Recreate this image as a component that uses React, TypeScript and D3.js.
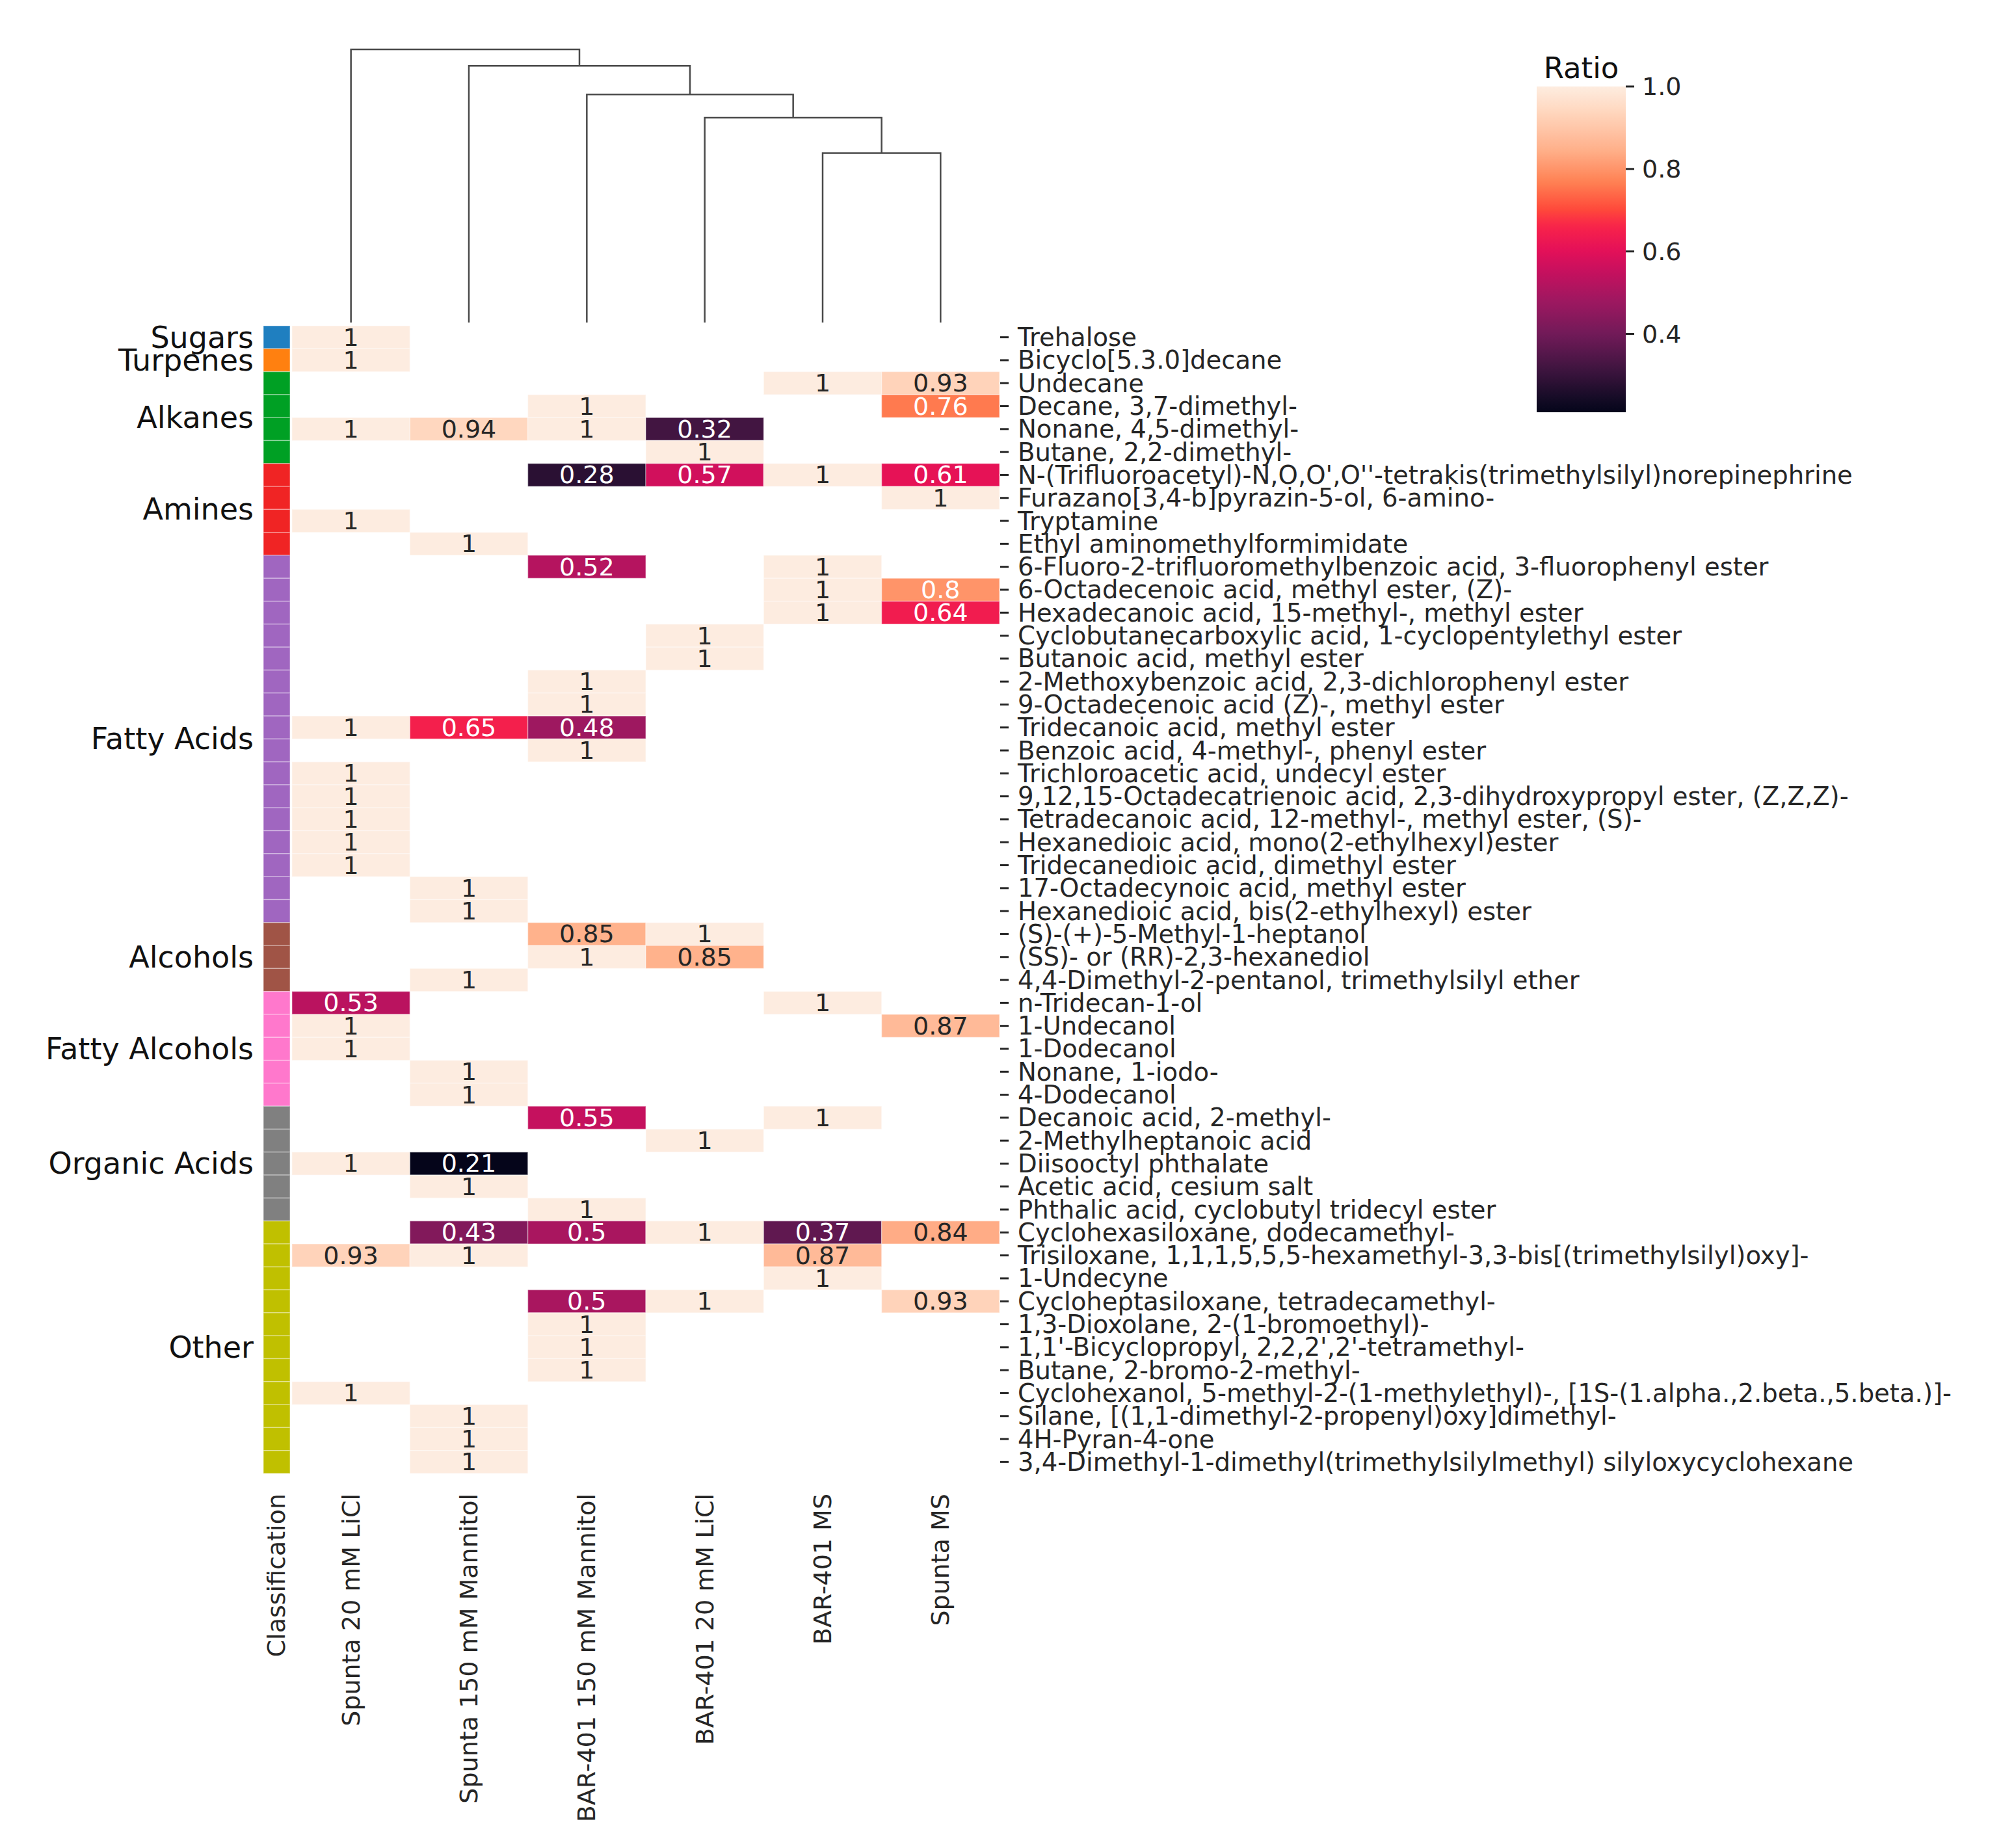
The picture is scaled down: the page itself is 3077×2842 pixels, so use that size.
import React, { useEffect } from 'react';
import * as d3 from 'd3';

// sample columns, in dendrogram leaf order
const columns = [
    'Spunta 20 mM LiCl',
    'Spunta 150 mM Mannitol',
    'BAR-401 150 mM Mannitol',
    'BAR-401 20 mM LiCl',
    'BAR-401 MS',
    'Spunta MS',
];

const compounds = [
    'Trehalose',
    'Bicyclo[5.3.0]decane',
    'Undecane',
    'Decane, 3,7-dimethyl-',
    'Nonane, 4,5-dimethyl-',
    'Butane, 2,2-dimethyl-',
    "N-(Trifluoroacetyl)-N,O,O',O''-tetrakis(trimethylsilyl)norepinephrine",
    'Furazano[3,4-b]pyrazin-5-ol, 6-amino-',
    'Tryptamine',
    'Ethyl aminomethylformimidate',
    '6-Fluoro-2-trifluoromethylbenzoic acid, 3-fluorophenyl ester',
    '6-Octadecenoic acid, methyl ester, (Z)-',
    'Hexadecanoic acid, 15-methyl-, methyl ester',
    'Cyclobutanecarboxylic acid, 1-cyclopentylethyl ester',
    'Butanoic acid, methyl ester',
    '2-Methoxybenzoic acid, 2,3-dichlorophenyl ester',
    '9-Octadecenoic acid (Z)-, methyl ester',
    'Tridecanoic acid, methyl ester',
    'Benzoic acid, 4-methyl-, phenyl ester',
    'Trichloroacetic acid, undecyl ester',
    '9,12,15-Octadecatrienoic acid, 2,3-dihydroxypropyl ester, (Z,Z,Z)-',
    'Tetradecanoic acid, 12-methyl-, methyl ester, (S)-',
    'Hexanedioic acid, mono(2-ethylhexyl)ester',
    'Tridecanedioic acid, dimethyl ester',
    '17-Octadecynoic acid, methyl ester',
    'Hexanedioic acid, bis(2-ethylhexyl) ester',
    '(S)-(+)-5-Methyl-1-heptanol',
    '(SS)- or (RR)-2,3-hexanediol',
    '4,4-Dimethyl-2-pentanol, trimethylsilyl ether',
    'n-Tridecan-1-ol',
    '1-Undecanol',
    '1-Dodecanol',
    'Nonane, 1-iodo-',
    '4-Dodecanol',
    'Decanoic acid, 2-methyl-',
    '2-Methylheptanoic acid',
    'Diisooctyl phthalate',
    'Acetic acid, cesium salt',
    'Phthalic acid, cyclobutyl tridecyl ester',
    'Cyclohexasiloxane, dodecamethyl-',
    'Trisiloxane, 1,1,1,5,5,5-hexamethyl-3,3-bis[(trimethylsilyl)oxy]-',
    '1-Undecyne',
    'Cycloheptasiloxane, tetradecamethyl-',
    '1,3-Dioxolane, 2-(1-bromoethyl)-',
    "1,1'-Bicyclopropyl, 2,2,2',2'-tetramethyl-",
    'Butane, 2-bromo-2-methyl-',
    'Cyclohexanol, 5-methyl-2-(1-methylethyl)-, [1S-(1.alpha.,2.beta.,5.beta.)]-',
    'Silane, [(1,1-dimethyl-2-propenyl)oxy]dimethyl-',
    '4H-Pyran-4-one',
    '3,4-Dimethyl-1-dimethyl(trimethylsilylmethyl) silyloxycyclohexane',
];

const classes = ['Sugars', 'Turpenes', 'Alkanes', 'Amines', 'Fatty Acids', 'Alcohols', 'Fatty Alcohols', 'Organic Acids', 'Other'];
const classCounts = [1, 1, 4, 4, 16, 3, 5, 5, 11];
const classColors = ['#1f7fc0', '#ff8010', '#00a024', '#f02424', '#a066c0', '#a05446', '#ff78cc', '#808080', '#c0c000'];

const _ = null;
// ratio per column, one entry per compound (rows of ten)
const spunta20LiCl = [
    1, 1, _, _, 1, _, _, _, 1, _,
    _, _, _, _, _, _, _, 1, _, 1,
    1, 1, 1, 1, _, _, _, _, _, 0.53,
    1, 1, _, _, _, _, 1, _, _, _,
    0.93, _, _, _, _, _, 1, _, _, _,
];
const spunta150Mannitol = [
    _, _, _, _, 0.94, _, _, _, _, 1,
    _, _, _, _, _, _, _, 0.65, _, _,
    _, _, _, _, 1, 1, _, _, 1, _,
    _, _, 1, 1, _, _, 0.21, 1, _, 0.43,
    1, _, _, _, _, _, _, 1, 1, 1,
];
const bar150Mannitol = [
    _, _, _, 1, 1, _, 0.28, _, _, _,
    0.52, _, _, _, _, 1, 1, 0.48, 1, _,
    _, _, _, _, _, _, 0.85, 1, _, _,
    _, _, _, _, 0.55, _, _, _, 1, 0.5,
    _, _, 0.5, 1, 1, 1, _, _, _, _,
];
const bar20LiCl = [
    _, _, _, _, 0.32, 1, 0.57, _, _, _,
    _, _, _, 1, 1, _, _, _, _, _,
    _, _, _, _, _, _, 1, 0.85, _, _,
    _, _, _, _, _, 1, _, _, _, 1,
    _, _, 1, _, _, _, _, _, _, _,
];
const barMS = [
    _, _, 1, _, _, _, 1, _, _, _,
    1, 1, 1, _, _, _, _, _, _, _,
    _, _, _, _, _, _, _, _, _, 1,
    _, _, _, _, 1, _, _, _, _, 0.37,
    0.87, 1, _, _, _, _, _, _, _, _,
];
const spuntaMS = [
    _, _, 0.93, 0.76, _, _, 0.61, 1, _, _,
    _, 0.8, 0.64, _, _, _, _, _, _, _,
    _, _, _, _, _, _, _, _, _, _,
    0.87, _, _, _, _, _, _, _, _, 0.84,
    _, _, 0.93, _, _, _, _, _, _, _,
];
const seriesValues = [spunta20LiCl, spunta150Mannitol, bar150Mannitol, bar20LiCl, barMS, spuntaMS];

// column linkage: [left, right, height], new nodes get ids 6, 7, ...
const linkage: [number, number, number][] = [
    [4, 5, 0.62],
    [3, 6, 0.75],
    [2, 7, 0.835],
    [1, 8, 0.94],
    [0, 9, 1.0],
];

const cbarTicks = [0.4, 0.6, 0.8, 1.0];

// seaborn "rocket" (used for annotation contrast like seaborn does)
const rocketStops = ['#03051a', '#35193e', '#701f57', '#ad1759', '#e13342', '#f37651', '#f6b48f', '#faebdd'];
// fill colours as they appear in the picture (rocket, more saturated)
const cmapValues = [0.21, 0.238, 0.317, 0.397, 0.476, 0.555, 0.603, 0.66, 0.703, 0.767, 0.846, 0.952, 1.0];
const cmapColors = ['#05051a', '#120a24', '#401540', '#701a58', '#9c1860', '#c8105e', '#e41058', '#f8224a', '#ff4a3a', '#ff8052', '#ffb08a', '#ffdcc6', '#fdece0'];

const W = 3077;
const H = 2842;
const FONT = '"DejaVu Sans", sans-serif';
const TXT = '#262626';

const App: React.FC = () => {
    useEffect(() => {
        document.body.style.margin = '0';
    }, []);

    const vmin = 0.21;
    const vmax = 1.0;

    const x = d3.scaleBand<string>().domain(columns).range([449, 1537]);
    const y = d3.scaleBand<string>().domain(compounds).range([501, 2266]);

    const color = d3
        .scaleLinear<string>()
        .domain(cmapValues)
        .range(cmapColors)
        .interpolate(d3.interpolateRgb)
        .clamp(true);

    const rocket = d3
        .scaleLinear<string>()
        .domain(rocketStops.map((_c, i) => vmin + (i / (rocketStops.length - 1)) * (vmax - vmin)))
        .range(rocketStops)
        .interpolate(d3.interpolateRgb)
        .clamp(true);

    const textColor = (v: number) => {
        const rgb = d3.rgb(rocket(v));
        const lin = (c: number) => {
            const s = c / 255;
            return s <= 0.03928 ? s / 12.92 : Math.pow((s + 0.055) / 1.055, 2.4);
        };
        const lum = 0.2126 * lin(rgb.r) + 0.7152 * lin(rgb.g) + 0.0722 * lin(rgb.b);
        return lum > 0.408 ? TXT : '#ffffff';
    };

    // row -> class
    const rowClass: number[] = [];
    classCounts.forEach((n, ci) => {
        for (let k = 0; k < n; k++) rowClass.push(ci);
    });

    // dendrogram
    const dy = d3.scaleLinear().domain([0, 1.0]).range([496, 76]);
    const nodeX: number[] = columns.map((c) => (x(c) as number) + x.bandwidth() / 2);
    const nodeH: number[] = columns.map(() => 0);
    const dendroPaths: string[] = [];
    linkage.forEach(([a, b, h]) => {
        const p = d3.path();
        p.moveTo(nodeX[a], dy(nodeH[a]));
        p.lineTo(nodeX[a], dy(h));
        p.lineTo(nodeX[b], dy(h));
        p.lineTo(nodeX[b], dy(nodeH[b]));
        dendroPaths.push(p.toString());
        nodeX.push((nodeX[a] + nodeX[b]) / 2);
        nodeH.push(h);
    });

    // colorbar
    const cbX = 2363;
    const cbW = 137;
    const cy = d3.scaleLinear().domain([vmin, vmax]).range([634, 133]);
    const gradStops = d3.range(0, 1.0001, 0.02);

    let acc = 0;
    const groups = classCounts.map((n, i) => {
        const start = acc;
        acc += n;
        return { name: classes[i], color: classColors[i], start, end: acc };
    });

    return (
        <svg width={W} height={H} style={{ display: 'block', background: '#fff' }} fontFamily={FONT}>
            <defs>
                <linearGradient id="cbar" x1="0" y1="1" x2="0" y2="0">
                    {gradStops.map((t) => (
                        <stop key={t} offset={t} stopColor={color(vmin + t * (vmax - vmin))} />
                    ))}
                </linearGradient>
            </defs>

            {/* dendrogram */}
            <g fill="none" stroke="#4a4a4a" strokeWidth={2.5}>
                {dendroPaths.map((d, i) => (
                    <path key={i} d={d} />
                ))}
            </g>

            {/* classification strip */}
            {compounds.map((c, i) => (
                <rect
                    key={'cls' + i}
                    x={405}
                    y={y(c)}
                    width={41}
                    height={y.bandwidth()}
                    fill={classColors[rowClass[i]]}
                    stroke="#ffffff"
                    strokeOpacity={0.35}
                    strokeWidth={1.5}
                />
            ))}

            {/* group labels */}
            {groups.map((g) => (
                <text
                    key={g.name}
                    x={390}
                    y={(y(compounds[g.start]) as number + (y(compounds[g.end - 1]) as number) + y.bandwidth()) / 2}
                    textAnchor="end"
                    dominantBaseline="central"
                    fontSize={46}
                    fill="#111"
                >
                    {g.name}
                </text>
            ))}

            {/* heatmap cells */}
            {columns.map((col, ci) =>
                compounds.map((cmp, ri) => {
                    const v = seriesValues[ci][ri];
                    if (v === null || v === undefined) return null;
                    const cx = (x(col) as number) + x.bandwidth() / 2;
                    const cyy = (y(cmp) as number) + y.bandwidth() / 2;
                    return (
                        <g key={ci + '-' + ri}>
                            <rect
                                x={x(col)}
                                y={y(cmp)}
                                width={x.bandwidth()}
                                height={y.bandwidth()}
                                fill={color(v)}
                                stroke="#ffffff"
                                strokeOpacity={0.35}
                                strokeWidth={1.5}
                            />
                            <text
                                x={cx}
                                y={cyy}
                                textAnchor="middle"
                                dominantBaseline="central"
                                fontSize={38}
                                fill={textColor(v)}
                            >
                                {String(v)}
                            </text>
                        </g>
                    );
                }),
            )}

            {/* row labels (right) */}
            {compounds.map((c) => {
                const yc = (y(c) as number) + y.bandwidth() / 2;
                return (
                    <g key={'lab' + c}>
                        <line x1={1538} x2={1551} y1={yc} y2={yc} stroke={TXT} strokeWidth={3} />
                        <text x={1565} y={yc} dominantBaseline="central" fontSize={38.6} fill={TXT}>
                            {c}
                        </text>
                    </g>
                );
            })}

            {/* column labels (bottom, rotated) */}
            <text
                transform={`translate(${425},${2297}) rotate(-90)`}
                textAnchor="end"
                dominantBaseline="central"
                fontSize={38}
                fill={TXT}
            >
                Classification
            </text>
            {columns.map((col) => (
                <text
                    key={'col' + col}
                    transform={`translate(${(x(col) as number) + x.bandwidth() / 2},${2297}) rotate(-90)`}
                    textAnchor="end"
                    dominantBaseline="central"
                    fontSize={38}
                    fill={TXT}
                >
                    {col}
                </text>
            ))}

            {/* colorbar */}
            <text x={cbX + cbW / 2} y={120} textAnchor="middle" fontSize={45} fill="#111">
                Ratio
            </text>
            <rect x={cbX} y={cy(vmax)} width={cbW} height={cy(vmin) - cy(vmax)} fill="url(#cbar)" />
            {cbarTicks.map((t) => (
                <g key={'cb' + t}>
                    <line x1={cbX + cbW} x2={cbX + cbW + 13} y1={cy(t)} y2={cy(t)} stroke={TXT} strokeWidth={3} />
                    <text x={cbX + cbW + 25} y={cy(t)} dominantBaseline="central" fontSize={38} fill={TXT}>
                        {t.toFixed(1)}
                    </text>
                </g>
            ))}
        </svg>
    );
};

export default App;
